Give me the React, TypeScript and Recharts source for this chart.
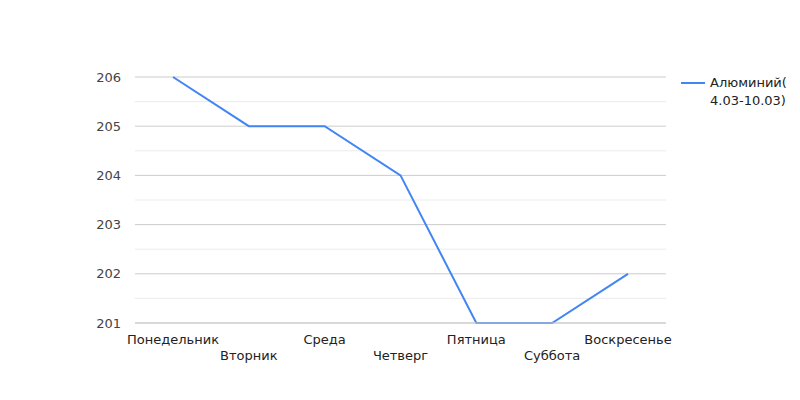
import { LineChart, Line, XAxis, YAxis, CartesianGrid, ReferenceLine, Legend } from 'recharts'

const days = ['Понедельник', 'Вторник', 'Среда', 'Четверг', 'Пятница', 'Суббота', 'Воскресенье']
const prices = [206, 205, 205, 204, 201, 201, 202]
const majorTicks = [201, 202, 203, 204, 205, 206]
const minorTicks = [201.5, 202.5, 203.5, 204.5, 205.5]
const seriesName = 'Алюминий( 4.03-10.03)'

const data = days.map((day, i) => ({ day, price: prices[i] }))

const FONT = 'DejaVu Sans, sans-serif'

const DayTick = (props: any) => {
  const { x, y, payload, index } = props
  // alternate labels on two rows like the original
  return (
    <text
      x={x}
      y={y + (index % 2 ? 24 : 8)}
      textAnchor="middle"
      dominantBaseline="central"
      fontSize={13}
      fontFamily={FONT}
      fill="#222"
    >
      {payload.value}
    </text>
  )
}

const LegendContent = (props: any) => {
  const item = props.payload?.[0]
  if (!item) return null
  return (
    <div style={{ display: 'flex', alignItems: 'flex-start', fontFamily: FONT, fontSize: 13, color: '#222' }}>
      <svg width={29} height={18} style={{ flex: 'none' }}>
        <line x1={0} x2={24} y1={9} y2={9} stroke={item.color} strokeWidth={2} />
      </svg>
      <div style={{ width: 82, lineHeight: '18px' }}>{item.value}</div>
    </div>
  )
}

export default function App() {
  return (
    <div style={{ position: 'absolute', left: 0, top: 0, width: 800, height: 400, background: '#fff' }}>
      <LineChart
        width={800}
        height={400}
        data={data}
        margin={{ top: 77, right: 14, left: 95, bottom: 37 }}
      >
        <CartesianGrid vertical={false} stroke="#ccc" horizontalValues={majorTicks} />
        {minorTicks.map((v) => (
          <ReferenceLine key={v} y={v} stroke="#ebebeb" />
        ))}
        <XAxis
          dataKey="day"
          axisLine={{ stroke: '#ccc' }}
          tickLine={false}
          interval={0}
          height={40}
          padding={{ left: 38, right: 38 }}
          tick={<DayTick />}
        />
        <YAxis
          domain={[201, 206]}
          ticks={majorTicks}
          axisLine={false}
          tickLine={false}
          width={40}
          tickMargin={8}
          tick={{ fontSize: 13, fontFamily: FONT, fill: '#444' }}
        />
        <Legend
          verticalAlign="top"
          align="right"
          layout="vertical"
          content={<LegendContent />}
          wrapperStyle={{ position: 'absolute', left: 681, top: 74, width: 120 }}
        />
        <Line
          type="linear"
          dataKey="price"
          name={seriesName}
          stroke="#4285f4"
          strokeWidth={2}
          dot={false}
          isAnimationActive={false}
        />
      </LineChart>
    </div>
  )
}
